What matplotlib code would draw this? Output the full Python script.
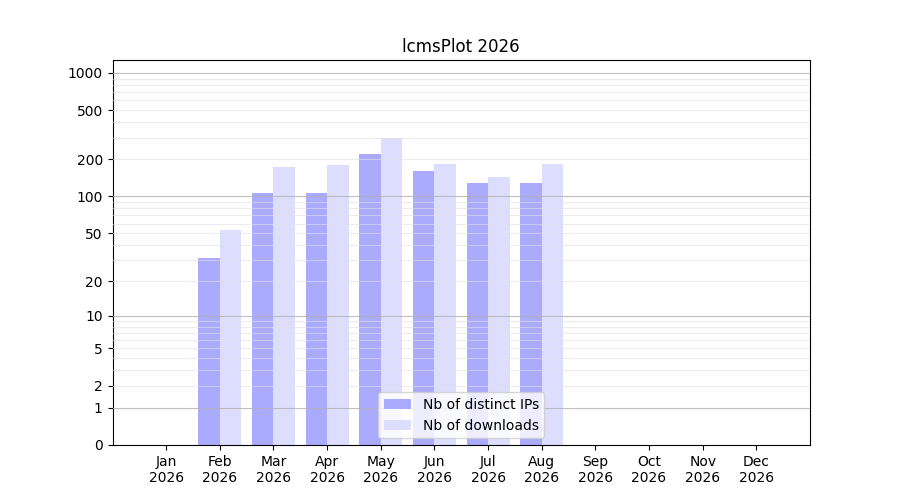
import numpy as np
import matplotlib
matplotlib.use("Agg")
import matplotlib.pyplot as plt
from matplotlib.ticker import FixedLocator, FixedFormatter

months = ["Jan", "Feb", "Mar", "Apr", "May", "Jun", "Jul", "Aug", "Sep", "Oct", "Nov", "Dec"]
year = "2026"
distinct_ips = [0, 31, 107, 107, 222, 162, 129, 129, 0, 0, 0, 0]
downloads = [0, 53, 174, 181, 299, 184, 145, 184, 0, 0, 0, 0]
ytick_vals = [0, 1, 2, 5, 10, 20, 50, 100, 200, 500, 1000]
major_grid = [1, 10, 100, 1000]
minor_grid = [2, 3, 4, 5, 6, 7, 8, 9, 20, 30, 40, 50, 60, 70, 80, 90,
              200, 300, 400, 500, 600, 700, 800, 900]

fig, ax = plt.subplots(figsize=(9, 5), dpi=100)
x = np.arange(len(months))
ax.bar(x - 0.2, distinct_ips, width=0.4, color="#aaaaff", label="Nb of distinct IPs")
ax.bar(x + 0.2, downloads, width=0.4, color="#ddddff", label="Nb of downloads")

ax.set_yscale("function", functions=(lambda v: np.log10(1 + np.clip(v, 0, None)),
                                     lambda v: 10 ** v - 1))
ax.set_ylim(0, 1270)
ax.set_xlim(-1, 12)

ax.yaxis.set_major_locator(FixedLocator(ytick_vals))
ax.yaxis.set_major_formatter(FixedFormatter([str(v) for v in ytick_vals]))
ax.yaxis.set_minor_locator(FixedLocator([]))
ax.set_xticks(x)
ax.set_xticklabels([f"{m}\n{year}" for m in months])

for v in major_grid:
    ax.axhline(v, color="#b0b0b0", linewidth=0.8, alpha=0.8, zorder=3)
for v in minor_grid:
    ax.axhline(v, color="#e0e0e0", linewidth=0.8, alpha=0.6, zorder=3)

ax.set_title("lcmsPlot 2026")
ax.legend(loc="lower center")
fig.savefig("out.png")
